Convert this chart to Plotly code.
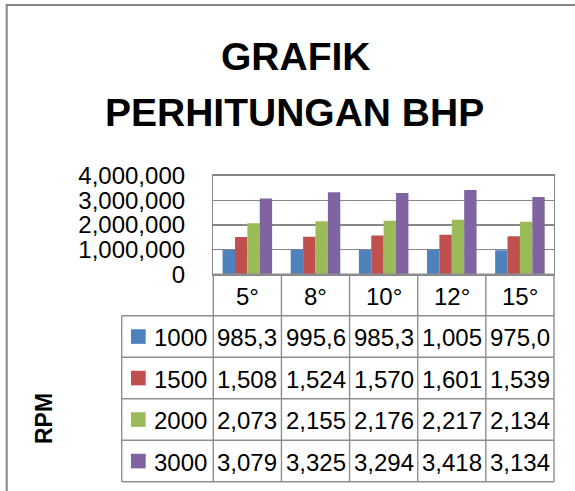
import plotly.graph_objects as go

# ---------------- data ----------------
categories = ["5°", "8°", "10°", "12°", "15°"]
series_names = ["1000", "1500", "2000", "3000"]
rpm_1000 = [985350, 995640, 985350, 1005200, 975040]
rpm_1500 = [1508300, 1524500, 1570200, 1601400, 1539100]
rpm_2000 = [2073600, 2155300, 2176100, 2217800, 2134400]
rpm_3000 = [3079200, 3325500, 3294600, 3418900, 3134700]
series_values = [rpm_1000, rpm_1500, rpm_2000, rpm_3000]
series_colors = ["#4F81BD", "#C0504D", "#9BBB59", "#8064A2"]
y_tick_values = [0, 1000000, 2000000, 3000000, 4000000]
title_lines = ["GRAFIK", "PERHITUNGAN BHP"]
row_axis_title = "RPM"

# ---------------- layout helpers ----------------
W, H = 575, 491
FONT = "Liberation Sans, Arial, sans-serif"
GRID = "#878787"
LINE = "#8e8e8e"


def fx(px):
    return px / W


def fy(py):
    return 1 - py / H


plot_left, plot_right = 213.3, 554.0
plot_top, plot_bottom = 175.7, 274.3
row_h = 41.5
legend_left = 121.7
n_cat = len(categories)
col_w = (plot_right - plot_left) / n_cat
table_bottom = plot_bottom + row_h * (len(series_names) + 1)

fig = go.Figure()
for name, vals, col in zip(series_names, series_values, series_colors):
    fig.add_trace(go.Bar(x=categories, y=vals, name=name, marker_color=col,
                         marker_line_width=0, showlegend=False))

shapes = []
annotations = []

# chart border (only top/left visible; rest cropped)
shapes.append(dict(type="rect", xref="paper", yref="paper",
                   x0=fx(6.7), y0=fy(5), x1=fx(600), y1=fy(520),
                   line=dict(color="#868686", width=2)))

# table horizontal lines
for i in range(len(series_names) + 2):
    yy = plot_bottom + i * row_h
    x0 = plot_left if i == 0 else legend_left
    shapes.append(dict(type="line", xref="paper", yref="paper",
                       x0=fx(x0), x1=fx(plot_right), y0=fy(yy), y1=fy(yy),
                       line=dict(color=LINE, width=1.4)))
# table vertical lines
shapes.append(dict(type="line", xref="paper", yref="paper",
                   x0=fx(legend_left), x1=fx(legend_left),
                   y0=fy(plot_bottom + row_h), y1=fy(table_bottom),
                   line=dict(color=LINE, width=1.4)))
for k in range(n_cat + 1):
    xx = plot_left + k * col_w
    shapes.append(dict(type="line", xref="paper", yref="paper",
                       x0=fx(xx), x1=fx(xx), y0=fy(plot_bottom), y1=fy(table_bottom),
                       line=dict(color=LINE, width=1.4)))

# header row (category labels)
for c in categories:
    annotations.append(dict(x=c, xref="x", y=fy(plot_bottom + row_h / 2 + 1), yref="paper",
                            text=c, showarrow=False, xanchor="center", yanchor="middle",
                            font=dict(family=FONT, size=24, color="black")))

# data rows
for r, (name, vals, col) in enumerate(zip(series_names, series_values, series_colors)):
    cy = plot_bottom + row_h * (r + 1) + row_h / 2
    shapes.append(dict(type="rect", xref="paper", yref="paper",
                       x0=fx(131), x1=fx(145.7), y0=fy(cy - 7.3), y1=fy(cy + 7.3),
                       fillcolor=col, line=dict(width=0)))
    annotations.append(dict(x=fx(152), xref="paper", y=fy(cy + 1), yref="paper",
                            text=name, showarrow=False, xanchor="left", yanchor="middle",
                            font=dict(family=FONT, size=24, color="black")))
    for c, v in zip(categories, vals):
        txt = f"{v:,.0f}"[:5]
        annotations.append(dict(x=c, xref="x", y=fy(cy + 1), yref="paper",
                                text=txt, showarrow=False, xanchor="center", yanchor="middle",
                                font=dict(family=FONT, size=24, color="black")))

# title
annotations.append(dict(x=fx(295.5), y=fy(56.5), xref="paper", yref="paper",
                        text=f"<b>{title_lines[0]}</b>", showarrow=False,
                        xanchor="center", yanchor="middle",
                        font=dict(family=FONT, size=39, color="black")))
annotations.append(dict(x=fx(294), y=fy(112.5), xref="paper", yref="paper",
                        text=f"<b>{title_lines[1]}</b>", showarrow=False,
                        xanchor="center", yanchor="middle",
                        font=dict(family=FONT, size=39, color="black")))
# RPM
annotations.append(dict(x=fx(44), y=fy(419), xref="paper", yref="paper",
                        text=f"<b>{row_axis_title}</b>", showarrow=False, textangle=-90,
                        xanchor="center", yanchor="middle",
                        font=dict(family=FONT, size=23, color="black")))

fig.update_layout(
    width=W, height=H, autosize=False,
    margin=dict(l=0, r=0, t=0, b=0, pad=0, autoexpand=False),
    paper_bgcolor="white", plot_bgcolor="white",
    barmode="group", bargap=0.273, bargroupgap=0,
    shapes=shapes, annotations=annotations, hovermode=False,
    xaxis=dict(domain=[fx(plot_left), fx(plot_right)], showticklabels=False,
               showgrid=False, showline=True, mirror=True, linecolor=GRID, linewidth=1.4,
               ticks="", zeroline=False, automargin=False),
    yaxis=dict(domain=[fy(plot_bottom), fy(plot_top)], range=[0, 4000000],
               tickvals=y_tick_values, tickformat=",", showgrid=True, gridcolor=GRID,
               gridwidth=1.4, showline=True, mirror=True, linecolor=GRID, linewidth=1.4,
               zeroline=False, ticks="", ticklabelstandoff=22, automargin=False,
               tickfont=dict(family=FONT, size=24, color="black")),
)

fig.write_html("out.html", config={"displayModeBar": False, "staticPlot": True},
               post_script="document.body.style.margin='0';document.body.style.overflow='hidden';")
